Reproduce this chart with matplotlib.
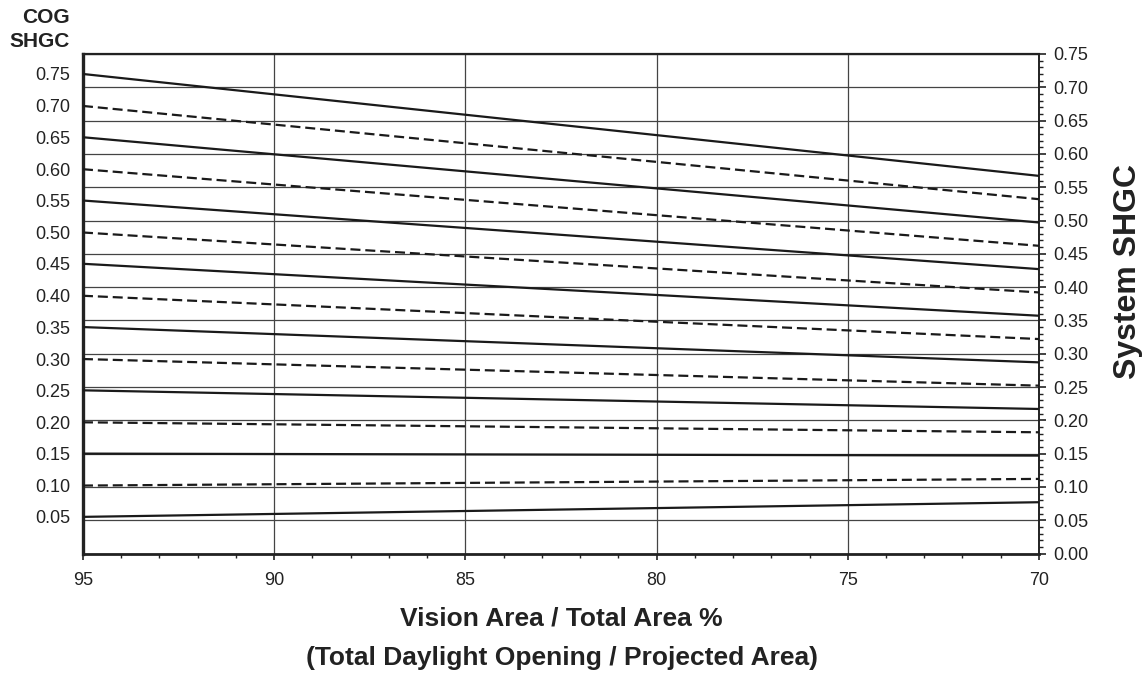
import numpy as np
import matplotlib.pyplot as plt
from matplotlib.ticker import MultipleLocator

plt.rcParams['font.family'] = ['Liberation Sans', 'DejaVu Sans']

# vision area % (x axis runs from 95 down to 70)
vision_area = [95, 70]

# COG SHGC labels shown on the left, one per curve
cog_labels = ['0.75', '0.70', '0.65', '0.60', '0.55', '0.50', '0.45', '0.40',
              '0.35', '0.30', '0.25', '0.20', '0.15', '0.10', '0.05']

# system SHGC read at 95 % and 70 %
sys_at_95 = [0.720, 0.672, 0.625, 0.577, 0.530, 0.482, 0.435, 0.387,
             0.340, 0.292, 0.245, 0.197, 0.150, 0.102, 0.055]
sys_at_70 = [0.567, 0.532, 0.497, 0.462, 0.427, 0.392, 0.357, 0.322,
             0.287, 0.252, 0.217, 0.182, 0.147, 0.112, 0.077]

fig = plt.figure(figsize=(11.46, 6.75), dpi=100)
ax = fig.add_axes([0.0724, 0.18, 0.8342, 0.74])
ax2 = ax.twinx()

for i, (y0, y1) in enumerate(zip(sys_at_95, sys_at_70)):
    if i % 2 == 0:
        ax.plot(vision_area, [y0, y1], color='#1a1a1a', lw=1.6, zorder=3)
    else:
        ax.plot(vision_area, [y0, y1], color='#1a1a1a', lw=1.6,
                dashes=(4.5, 2.2), zorder=3)

ax.set_xlim(95, 70)
ax.set_ylim(0, 0.75)

# right axis: system SHGC
ax.yaxis.tick_right()
ax.yaxis.set_major_locator(MultipleLocator(0.05))
ax.yaxis.set_minor_locator(MultipleLocator(0.01))
ax.yaxis.set_major_formatter(plt.FuncFormatter(lambda v, p: '%.2f' % v))
ax.xaxis.set_major_locator(MultipleLocator(5))
ax.xaxis.set_minor_locator(MultipleLocator(1))
ax.tick_params(axis='both', which='major', labelsize=13, colors='#222222',
               direction='out', length=5, width=1.2, pad=5)
ax.tick_params(axis='both', which='minor', direction='out', length=3,
               width=1.0, colors='#222222')
ax.tick_params(axis='x', which='major', length=4, pad=9)

ax.grid(True, which='major', color='#444444', lw=0.9)
ax.set_axisbelow(True)

for side, w in [('left', 2.4), ('bottom', 2.0), ('top', 1.6), ('right', 1.4)]:
    ax.spines[side].set_linewidth(w)
    ax.spines[side].set_color('#222222')

# left axis: COG SHGC labels at the start of each curve
ax2.set_ylim(ax.get_ylim())
ax2.yaxis.tick_left()
ax2.set_yticks(sys_at_95, labels=cog_labels)
ax2.tick_params(axis='y', length=0, labelsize=13, colors='#222222', pad=9)
for s in ax2.spines.values():
    s.set_visible(False)

fig.text(0.061, 0.988, 'COG', ha='right', va='top', fontsize=15,
         fontweight='bold', color='#222222')
fig.text(0.061, 0.953, 'SHGC', ha='right', va='top', fontsize=15,
         fontweight='bold', color='#222222')
fig.text(0.984, 0.598, 'System SHGC', rotation=90, ha='center', va='center',
         fontsize=23, fontweight='bold', color='#222222')
fig.text(0.49, 0.083, 'Vision Area / Total Area %', ha='center', va='center',
         fontsize=19, fontweight='bold', color='#222222')
fig.text(0.49, 0.025, '(Total Daylight Opening / Projected Area)', ha='center',
         va='center', fontsize=19, fontweight='bold', color='#222222')

fig.savefig('out.png', dpi=100)
